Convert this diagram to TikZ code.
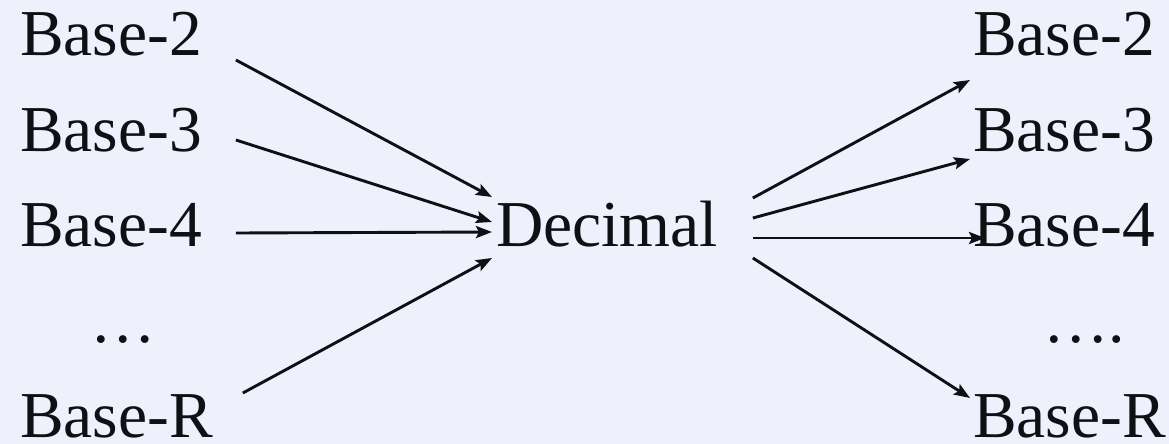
\documentclass[tikz,border=0pt]{standalone}
\usepackage{fontspec}
\setmainfont{Liberation Serif}
\usetikzlibrary{arrows.meta}
\definecolor{bgcol}{RGB}{238,241,251}
\definecolor{ink}{RGB}{15,15,20}
\tikzset{
  lbl/.style={inner sep=0pt, outer sep=0pt, text=ink, font=\fontsize{65.5}{65.5}\selectfont},
  arr/.style={draw=ink, line width=2.9pt, -{Stealth[length=16pt,width=12pt,inset=3pt]}},
}
\begin{document}
\begin{tikzpicture}[x=1pt,y=-1pt]
\fill[bgcol] (0,0) rectangle (1169,444);
\useasboundingbox (0,0) rectangle (1169,444);
% left column
\node[lbl, anchor=base west] (l2) at (20,56) {Base-2};
\node[lbl, anchor=base west] (l3) at (20,151) {Base-3};
\node[lbl, anchor=base west] (l4) at (20,246) {Base-4};
\node[lbl, anchor=base west] (ld) at (90,342) {…};
\node[lbl, anchor=base west] (lR) at (20,437) {Base-R};
% centre
\node[lbl, anchor=base west] (dec) at (496,246) {Decimal};
% right column
\node[lbl, anchor=base west] (r2) at (973,56) {Base-2};
\node[lbl, anchor=base west] (r3) at (973,151) {Base-3};
\node[lbl, anchor=base west] (r4) at (973,246) {Base-4};
\node[lbl, anchor=base west] (rd) at (1043,342) {….};
\node[lbl, anchor=base west] (rR) at (973,437) {Base-R};
% left arrows
\draw[arr] ([shift={(34,4)}]l2.base east) -- ([shift={(-4,-49)}]dec.base west);
\draw[arr] ([shift={(34,-11)}]l3.base east) -- ([shift={(-4,-24)}]dec.base west);
\draw[arr] ([shift={(34,-13)}]l4.base east) -- ([shift={(-4,-14)}]dec.base west);
\draw[arr] ([shift={(30,-44)}]lR.base east) -- ([shift={(-4,12)}]dec.base west);
% right arrows
\draw[arr] ([shift={(35,-48)}]dec.base east) -- ([shift={(-3,24)}]r2.base west);
\draw[arr] ([shift={(35,-28)}]dec.base east) -- ([shift={(-3,8)}]r3.base west);
\draw[arr] ([shift={(35,-8)}]dec.base east) -- ([shift={(12,-8)}]r4.base west);
\draw[arr] ([shift={(35,12)}]dec.base east) -- ([shift={(-3,-39)}]rR.base west);
\end{tikzpicture}
\end{document}
